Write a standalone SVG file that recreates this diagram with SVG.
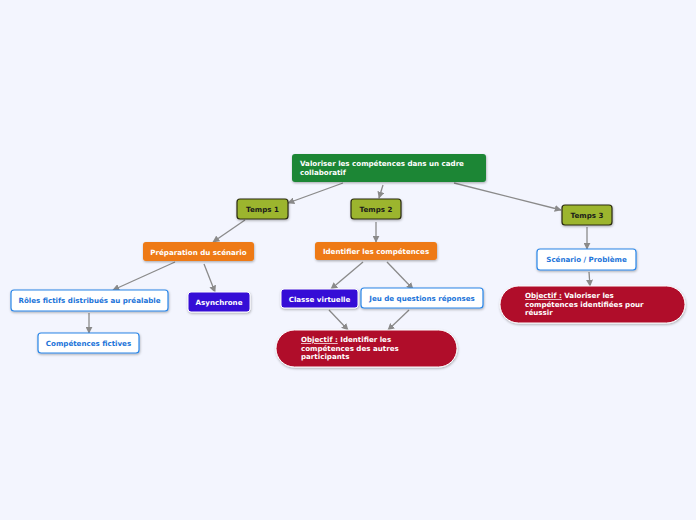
<svg xmlns="http://www.w3.org/2000/svg" width="696" height="520" viewBox="0 0 696 520">
<defs>
<style>
text{font-family:"DejaVu Sans","Liberation Sans",sans-serif;font-weight:bold;font-size:7.1px}
.w{fill:#ffffff}
.k{fill:#1a1a1a}
.b{fill:#1a73d9}
.c{stroke:#8a8a8a;stroke-width:1.3;fill:none;marker-end:url(#ah)}
.root{fill:#1b8636}
.tp{fill:#9cb52e;stroke:#2b2b10;stroke-width:1.2}
.or{fill:#ee7a12}
.pu{fill:#3408d6;stroke:#ffffff;stroke-width:1}
.wb{fill:#ffffff;stroke:#2a86e8;stroke-width:1.2}
.rd{fill:#b00c2b;stroke:#ffffff;stroke-width:1}
</style>
<marker id="ah" viewBox="0 0 10 10" refX="9" refY="5" markerWidth="7" markerHeight="7" markerUnits="userSpaceOnUse" orient="auto">
<path d="M0,0 L10,5 L0,10 z" fill="#8a8a8a"/>
</marker>
<filter id="sh" x="-10%" y="-20%" width="120%" height="150%">
<feDropShadow dx="0.5" dy="1.2" stdDeviation="0.8" flood-color="#000" flood-opacity="0.3"/>
</filter>
</defs>
<rect width="696" height="520" fill="#f3f5fe"/>
<g id="connectors">
<line class="c" x1="343" y1="183" x2="288" y2="203"/>
<line class="c" x1="383" y1="185" x2="379" y2="198"/>
<line class="c" x1="454" y1="183" x2="561" y2="210"/>
<line class="c" x1="245" y1="220" x2="213" y2="242"/>
<line class="c" x1="376" y1="222" x2="376" y2="242"/>
<line class="c" x1="587" y1="227" x2="587" y2="249"/>
<line class="c" x1="175" y1="262" x2="113" y2="290"/>
<line class="c" x1="204" y1="264" x2="215" y2="292"/>
<line class="c" x1="89" y1="313" x2="89" y2="333"/>
<line class="c" x1="363" y1="262" x2="331" y2="289"/>
<line class="c" x1="387" y1="262" x2="413" y2="289"/>
<line class="c" x1="329" y1="310" x2="348" y2="330"/>
<line class="c" x1="409" y1="310" x2="388" y2="330"/>
<line class="c" x1="589" y1="272" x2="590" y2="286"/>
</g>
<g id="root">
<rect class="root" x="292" y="154" width="194" height="28" rx="3" filter="url(#sh)"/>
<text class="w" x="300" y="166">Valoriser les compétences dans un cadre</text>
<text class="w" x="300" y="175">collaboratif</text>
</g>
<g id="temps1">
<rect class="tp" x="237" y="199" width="51" height="20" rx="3" filter="url(#sh)"/>
<text class="k" x="262.5" y="212" text-anchor="middle">Temps 1</text>
</g>
<g id="temps2">
<rect class="tp" x="351" y="199" width="50" height="20" rx="3" filter="url(#sh)"/>
<text class="k" x="376" y="212" text-anchor="middle">Temps 2</text>
</g>
<g id="temps3">
<rect class="tp" x="562" y="205" width="50" height="20" rx="3" filter="url(#sh)"/>
<text class="k" x="587" y="218" text-anchor="middle">Temps 3</text>
</g>
<g id="preparation">
<rect class="or" x="143" y="242" width="111" height="19" rx="3" filter="url(#sh)"/>
<text class="w" x="198.5" y="254.5" text-anchor="middle">Préparation du scénario</text>
</g>
<g id="roles">
<rect class="wb" x="11" y="290" width="157" height="21" rx="3" filter="url(#sh)"/>
<text class="b" x="89.5" y="303" text-anchor="middle">Rôles fictifs distribués au préalable</text>
</g>
<g id="asynchrone">
<rect class="pu" x="188" y="292" width="62" height="20" rx="3" filter="url(#sh)"/>
<text class="w" x="219" y="304.5" text-anchor="middle">Asynchrone</text>
</g>
<g id="competences-fictives">
<rect class="wb" x="38" y="333" width="101" height="20" rx="3" filter="url(#sh)"/>
<text class="b" x="88.5" y="346" text-anchor="middle">Compétences fictives</text>
</g>
<g id="identifier">
<rect class="or" x="315" y="242" width="122" height="18" rx="3" filter="url(#sh)"/>
<text class="w" x="376" y="254" text-anchor="middle">Identifier les compétences</text>
</g>
<g id="classe">
<rect class="pu" x="281" y="289" width="77" height="19" rx="3" filter="url(#sh)"/>
<text class="w" x="319.5" y="301.5" text-anchor="middle">Classe virtuelle</text>
</g>
<g id="jeu">
<rect class="wb" x="361" y="288" width="122" height="20" rx="3" filter="url(#sh)"/>
<text class="b" x="422" y="300.5" text-anchor="middle">Jeu de questions réponses</text>
</g>
<g id="objectif1">
<rect class="rd" x="276" y="330" width="181" height="37" rx="18.5" filter="url(#sh)"/>
<text class="w" x="301" y="342"><tspan text-decoration="underline">Objectif :</tspan> Identifier les</text>
<text class="w" x="301" y="350.5">compétences des autres</text>
<text class="w" x="301" y="359">participants</text>
</g>
<g id="scenario">
<rect class="wb" x="537" y="249" width="99" height="21" rx="3" filter="url(#sh)"/>
<text class="b" x="586.5" y="262" text-anchor="middle">Scénario / Problème</text>
</g>
<g id="objectif2">
<rect class="rd" x="500" y="286" width="185" height="37" rx="18.5" filter="url(#sh)"/>
<text class="w" x="525" y="298"><tspan text-decoration="underline">Objectif :</tspan> Valoriser  les</text>
<text class="w" x="525" y="306.5">compétences identifiées pour</text>
<text class="w" x="525" y="315">réussir</text>
</g>
</svg>
